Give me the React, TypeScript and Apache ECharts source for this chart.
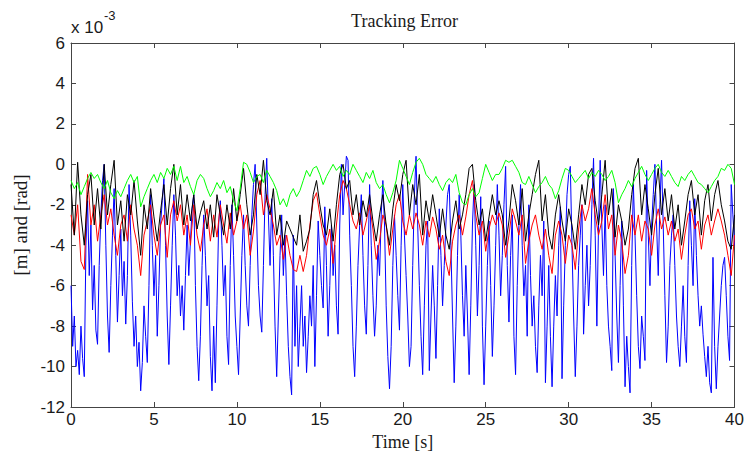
import React, { useEffect, useRef } from "react";
import * as echarts from "echarts";

// Tracking error ×10^-3, sampled every 0.1 s (blue) and 0.2 s (others)
const blueValues = [
  -6, -9, -7.5, -10, -9.2, -10.4, -8, -9.6, -10.5, -4,
  -1.8, -5.5, -3, -7.2, -5, -8.2, -8.9, -5, -2.5, -0.8,
  0, -4, -7.5, -9.3, -6, -3.5, -1.2, -4.5, -7.8, -5.5,
  -3.2, -6.5, -4.8, -7.9, -5.5, -1, -3.5, -6.8, -9, -7.5,
  -10, -8.8, -11.2, -9.8, -7, -8.5, -9.8, -6, -1.5, -4,
  -6.5, -4.5, -8.5, -6, -3, -1.8, -0.7, -4, -7.5, -9.9,
  -7, -4, -1.5, -3.5, -6.5, -5, -7.5, -6, -8.2, -5.5,
  -3, -5.5, -3.8, -2.2, -1.5, -6, -9, -10.7, -8.5, -5,
  -2.5, -4.5, -7, -5.5, -9.5, -11.2, -8, -10.8, -7, -3,
  -1.8, -4, -6.5, -5, -8.5, -9.9, -5, -2, -4.5, -7.5,
  -9, -10.4, -7.5, -4.5, -2.5, -5, -7, -8, -5, -2.5,
  -1, 0, -3, -6, -7.5, -8.3, -5, -1.5, 0.3, -2.5,
  -5, -1.7, -4.5, -8, -10.5, -7.5, -4.5, -2.5, -5.5, -3.5,
  -6.5, -9, -10.5, -11.4, -3.5, -9, -6, -10, -8, -6,
  -9, -7.5, -10.3, -8.5, -6.5, -8, -5, -10, -6.5, -2.8,
  -4.5, -6, -7.1, -2.1, -5, -8.5, -6, -3, -5.5, -4,
  -7, -8.4, -3, 0, -2.5, -1, 0.4, 0.2, -3.5, -6,
  -9, -10.5, -8, -5, -3, -1.5, -4.5, -7, -8.4, -5,
  -1, -4, -6.5, -8.5, -7, -4, -5.5, -2.5, -0.8, -3,
  -7, -9.5, -11.1, -9, -5, -2.5, -4.5, -6.5, -8.2, -4,
  -1, -3.5, -5.5, -7.5, -10, -9, -5, -1.5, 0.4, -3,
  -6, -8.5, -10.4, -7, -4, -2.8, -10.2, -7.5, -5, -7,
  -9.6, -6, -2.2, -4.5, -7, -5, -3, -1.5, -1, -4,
  -7.5, -10.8, -8, -4.5, -1.5, -3.5, -6.5, -8.5, -5, -7.5,
  -10.4, -7, -3, -1, -4, -7.5, -5, -1.6, -8, -10.9,
  -8, -5, -2.8, -6, -9.5, -7, -4, -1, -3.5, -6.5,
  -4.5, -2, -0.1, -5, -7.8, -4.5, -2.5, -8.5, -10.4, -6,
  -3, -1, -4, -6.5, -5, -8.5, -2, -5.5, -8, -6.5,
  -9, -10.3, -7, -4.5, -6.5, -2.8, -10.8, -8, -5, -8.5,
  -11, -8, -5.5, -7.5, -4, -2.1, -10.6, -7, -4, -1.5,
  -0.5, -0.1, -4, -7.5, -10.5, -8, -5, -3.5, -2, -8.4,
  -6, -4, -7, -5, -2, 0.3, -3.5, -8, -3, 0.2,
  -3, -5.5, -2, -6, -8, -9, -10.2, -1.2, -4.5, -7.5,
  -9.8, -6, -2.8, -7, -11, -8.5, -10, -11.3, -5, -1,
  -3.5, -6.5, -9, -10.1, -7.5, -8.5, -9.7, -0.3, -3.5, -6,
  -3, -1.5, 0, -3, -5.5, -2, 0.2, -3, -6.5, -9.8,
  -8, -5, -3.5, -2.5, -5, -7.5, -9, -10, -8, -6,
  -8.5, -9.8, -5, -1.8, -4, -6, -1.7, -4.5, -6.5, -8,
  -7, -8.4, -9.5, -10.5, -9, -10.8, -11.3, -4.6, -9, -11.1,
  -9, -7.5, -6, -5, -4.6, -6.5, -8.5, -9.7, -1, -2.5,
  -4,
];

const redValues = [
  -2.5, -3.5, -2, -4.8, -5.2, -0.5, -3, -2, -3.8, -2.5,
  -1.5, -3, -2.2, -3.5, -4.5, -3, -2.5, -3.8, -2, -3.2,
  -4, -5.5, -3.5, -2.8, -2, -3.5, -4.5, -3, -2.5, -4.6,
  -2.5, -1.8, -2.8, -2, -3.5, -2.5, -4, -2, -3.5, -4.3,
  -3, -2.2, -3.8, -2.5, -3.6, -2, -3, -3.9, -2.4, -3.5,
  -2.8, -2, -3.2, -2.5, -4.5, -3.3, -1.5, -0.8, -2.5, -1.5,
  -2.2, -3, -4, -3.5, -4.7, -3.5, -4.5, -5.2, -5.3, -4.5,
  -5.3, -4.5, -3, -1.8, -1.4, -2.5, -3.5, -4, -3.2, -4.9,
  -3, -1.5, -0.8, -1.2, -2, -2.8, -3.2, -2.4, -3.5, -2.8,
  -2, -3.2, -4.7, -3.8, -2.5, -3, -4.5, -3.2, -2, -1.5,
  -2.8, -3.5, -2.5, -3.2, -2.4, -3, -4, -2.8, -3.6, -2.6,
  -3.2, -4.2, -3.5, -4.8, -5.5, -3.8, -3, -2.5, -3.5, -2.6,
  -1.5, -0.8, -2.5, -3.5, -2.8, -4.3, -3.2, -2.5, -3, -2.4,
  -3, -4.6, -3.5, -2.2, -2.8, -3.5, -2.5, -4.9, -3.8, -3,
  -2.5, -3.5, -4.2, -3.2, -4.5, -5.4, -3.5, -2.8, -3.5, -4.9,
  -3.5, -4, -5.2, -3.2, -2, -2.8, -2.2, -1.2, -2.5, -3.5,
  -2.8, -1.5, -3.2, -2.5, -4.5, -3, -3.8, -5.4, -4.5, -2.5,
  -3.5, -2.5, -3.8, -2.8, -3.2, -4.5, -3, -2.2, -3.2, -2.6,
  -3.5, -2.8, -3.8, -3.2, -4.7, -3.5, -2.5, -2.2, -3.2, -2.8,
  -4.2, -3, -2.5, -3.5, -2.8, -2.2, -2.8, -3.5, -4.5, -5.5,
  -3.5,
];

const blackValues = [
  -1, -3.5, 0.1, -2.5, -4, -1.5, -0.5, -3, -1.2, -3.2,
  0, -2.5, -1, 0.2, -3, -1.8, -3.8, -1.5, -2.5, -0.8,
  -2.8, -4.5, -2, -3.2, -1.2, -2.6, -3.8, -2.3, -1, -3,
  -1.2, 0, -2.5, -1, -3, -1.5, -2.8, -1.5, -3.2, -2.4,
  -1.8, -3.2, -2, -3.6, -1.5, -2.5, -3.5, -2, -3.2, -1.2,
  -2.8, -1.5, -0.2, -2, -3.5, -2.5, -0.5, -1.5, 0.2, -1.8,
  -2.5, -1.2, -3.5, -2.5, -4, -2.8, -3.2, -3.6, -4, -2.5,
  -4.3, -3.8, -3.2, -1.5, -0.8, -2, -3, -3.5, -2.2, -3.8,
  -2, -0.5, 0, -1.2, -0.8, -2.5, -1.5, -3, -1.8, -2.6,
  -1.5, -2.8, -3.8, -2.5, -1.5, -3, -4, -2.2, -1, -1.8,
  -0.5, 0.2, -2.5, -1, -2, -0.5, -3.5, -1.8, -2.8, -1.5,
  -2.5, -3.6, -2.2, -3.5, -4.2, -2.8, -1.8, -3.2, -2.5, -1.5,
  -0.2, 0, -1.8, -3, -2.2, -3.8, -2.6, -1.5, -2.5, -1.8,
  -2.5, -4, -2.8, -1, -1.8, -3, -1.2, -3.8, -2.5, -1.5,
  -0.5, 0.2, -2.8, -1.5, -3.5, -4.2, -2.5, -1.5, -2.8, -3.8,
  -2.2, -3, -4.2, -2.5, -1, -2, -0.5, -0.2, -1.8, -3,
  -1.5, 0.2, -2.5, -1.2, -3.6, -2, -2.8, -4, -3.2, -1.5,
  -0.2, 0.3, -2.5, -1, -2.2, -3.5, -1.5, -0.2, -2.5, -1.2,
  -2.8, -1.5, -3.2, -2, -4, -2.8, -1.5, -0.8, -2.5, -1.5,
  -3.5, -1.8, -1, -2.8, -1.5, -0.8, -2, -2.8, -3.8, -4.2,
  -2.5,
];

const greenValues = [
  -0.8, -1.2, -0.9, -1.5, -1.1, -0.7, -0.4, -0.7, -0.5, -0.9,
  -1.2, -0.8, -1.4, -1.7, -1.3, -1.6, -1.2, -0.8, -0.5, -0.9,
  -0.6, -2.1, -1.6, -1.2, -0.8, -0.5, -0.9, -0.4, -0.7, -0.2,
  -0.5, -0.1, -0.8, -0.1, -0.9, -0.6, -1.1, -1.5, -0.8, -0.5,
  -0.7, -1.2, -1.6, -1.3, -0.9, -1.2, -0.8, -1.4, -1.1, -1.8,
  -2.3, -1.2, 0.1, 0, -0.4, -0.9, -0.6, -0.5, -0.9, -0.3,
  -0.6, -0.9, -1.3, -2, -1.7, -2.1, -1.5, -1.2, -1.6, -1.3,
  -0.8, -0.3, -0.6, -0.2, -0.1, -0.5, -1, -0.6, -0.3, 0,
  -0.3, -0.1, -0.6, -0.3, -0.5, 0, -0.3, -0.6, -0.9, -0.4,
  -0.7, -0.3, -0.9, -1.2, -1, -1.5, -1.9, -1.4, -0.8, 0.2,
  -0.2, -0.6, -1, -0.4, 0.1, 0.3, 0, -0.5, -0.7, -0.9,
  -0.6, -1, -1.3, -0.9, -0.7, -0.9, -0.5, -1.4, -1.9, -2,
  -1.5, -1.2, -1.6, -1.4, -0.7, 0, -0.4, -0.8, -0.5, -0.5,
  -0.2, 0.2, 0.1, 0.2, -0.1, -0.4, -0.9, -1, -0.6, -1,
  -1.4, -1.1, -0.9, -0.6, -1, -1.2, -1.7, -1.3, -0.7, -0.2,
  -0.3, -0.6, -0.9, -0.7, -0.5, -0.3, -0.7, -0.4, -0.6, -0.3,
  -0.5, -0.8, -0.6, -0.3, -0.9, -1.9, -1.5, -1.2, -0.8, -1.1,
  -0.7, -0.4, -0.1, -0.5, -0.8, -0.5, -0.2, 0, -0.4, -0.6,
  -0.3, -0.6, -0.9, -1.1, -0.6, -0.8, -0.5, -0.3, -0.6, -0.9,
  -1, -1.2, -1.4, -1.1, -0.8, -0.6, -0.2, -0.3, 0, -0.2,
  -1,
];

const blueStep = 0.1;
const otherStep = 0.2;
const xMin = 0;
const xMax = 40;
const xInterval = 5;
const yMin = -12;
const yMax = 6;
const yInterval = 2;

const titleText = "Tracking Error";
const xName = "Time [s]";
const yName = "[m] and [rad]";

const toPairs = (vals: number[], step: number) =>
  vals.map((v, i) => [Math.round(i * step * 10) / 10, v]);

export default function App() {
  const ref = useRef<HTMLDivElement>(null);
  useEffect(() => {
    if (!ref.current) return;
    const chart = echarts.init(ref.current, null, { renderer: "svg" });
    const axisColor = "#444";
    const labelStyle = {
      fontFamily: "Liberation Sans, Arial, sans-serif",
      fontSize: 17,
      color: "#1a1a1a",
    };
    const serif = "Liberation Serif, Times New Roman, serif";
    const baseX = {
      type: "value" as const,
      min: xMin,
      max: xMax,
      interval: xInterval,
      axisLine: { show: true, onZero: false, lineStyle: { color: axisColor, width: 1 } },
      axisTick: { show: true, inside: true, length: 5, lineStyle: { color: axisColor } },
      splitLine: { show: false },
    };
    const baseY = {
      type: "value" as const,
      min: yMin,
      max: yMax,
      interval: yInterval,
      axisLine: { show: true, onZero: false, lineStyle: { color: axisColor, width: 1 } },
      axisTick: { show: true, inside: true, length: 5, lineStyle: { color: axisColor } },
      splitLine: { show: false },
    };
    chart.setOption({
      animation: false,
      backgroundColor: "#ffffff",
      grid: { left: 71, right: 9, top: 43, bottom: 50, containLabel: false },
      xAxis: [
        {
          ...baseX,
          position: "bottom",
          axisLabel: { ...labelStyle, margin: 4 },
          name: xName,
          nameLocation: "middle",
          nameGap: 23,
          nameTextStyle: { fontFamily: serif, fontSize: 18, color: "#1a1a1a" },
        },
        { ...baseX, position: "top", axisLabel: { show: false } },
      ],
      yAxis: [
        {
          ...baseY,
          position: "left",
          axisLabel: { ...labelStyle, margin: 6 },
          name: yName,
          nameLocation: "middle",
          nameGap: 40,
          nameTextStyle: { fontFamily: serif, fontSize: 19, color: "#1a1a1a" },
        },
        { ...baseY, position: "right", axisLabel: { show: false } },
      ],
      graphic: [
        {
          type: "text",
          x: 404.5,
          y: 12,
          style: {
            text: titleText,
            font: `18px ${serif}`,
            fill: "#1a1a1a",
            textAlign: "center",
            textVerticalAlign: "top",
          },
        },
        {
          type: "text",
          x: 71,
          y: 19,
          style: {
            text: "x 10",
            font: "17px Liberation Sans, Arial, sans-serif",
            fill: "#1a1a1a",
            textAlign: "left",
            textVerticalAlign: "top",
          },
        },
        {
          type: "text",
          x: 104,
          y: 9,
          style: {
            text: "-3",
            font: "13px Liberation Sans, Arial, sans-serif",
            fill: "#1a1a1a",
            textAlign: "left",
            textVerticalAlign: "top",
          },
        },
      ],
      series: [
        {
          type: "line",
          data: toPairs(blueValues, blueStep),
          showSymbol: false,
          lineStyle: { color: "#0000ff", width: 1 },
          itemStyle: { color: "#0000ff" },
        },
        {
          type: "line",
          data: toPairs(redValues, otherStep),
          showSymbol: false,
          lineStyle: { color: "#ff0000", width: 1 },
          itemStyle: { color: "#ff0000" },
        },
        {
          type: "line",
          data: toPairs(blackValues, otherStep),
          showSymbol: false,
          lineStyle: { color: "#000000", width: 1 },
          itemStyle: { color: "#000000" },
        },
        {
          type: "line",
          data: toPairs(greenValues, otherStep),
          showSymbol: false,
          lineStyle: { color: "#00ff00", width: 1 },
          itemStyle: { color: "#00ff00" },
        },
      ],
    });
    return () => chart.dispose();
  }, []);
  return (
    <div
      ref={ref}
      style={{ position: "fixed", left: 0, top: 0, width: 747, height: 457, background: "#fff" }}
    />
  );
}
